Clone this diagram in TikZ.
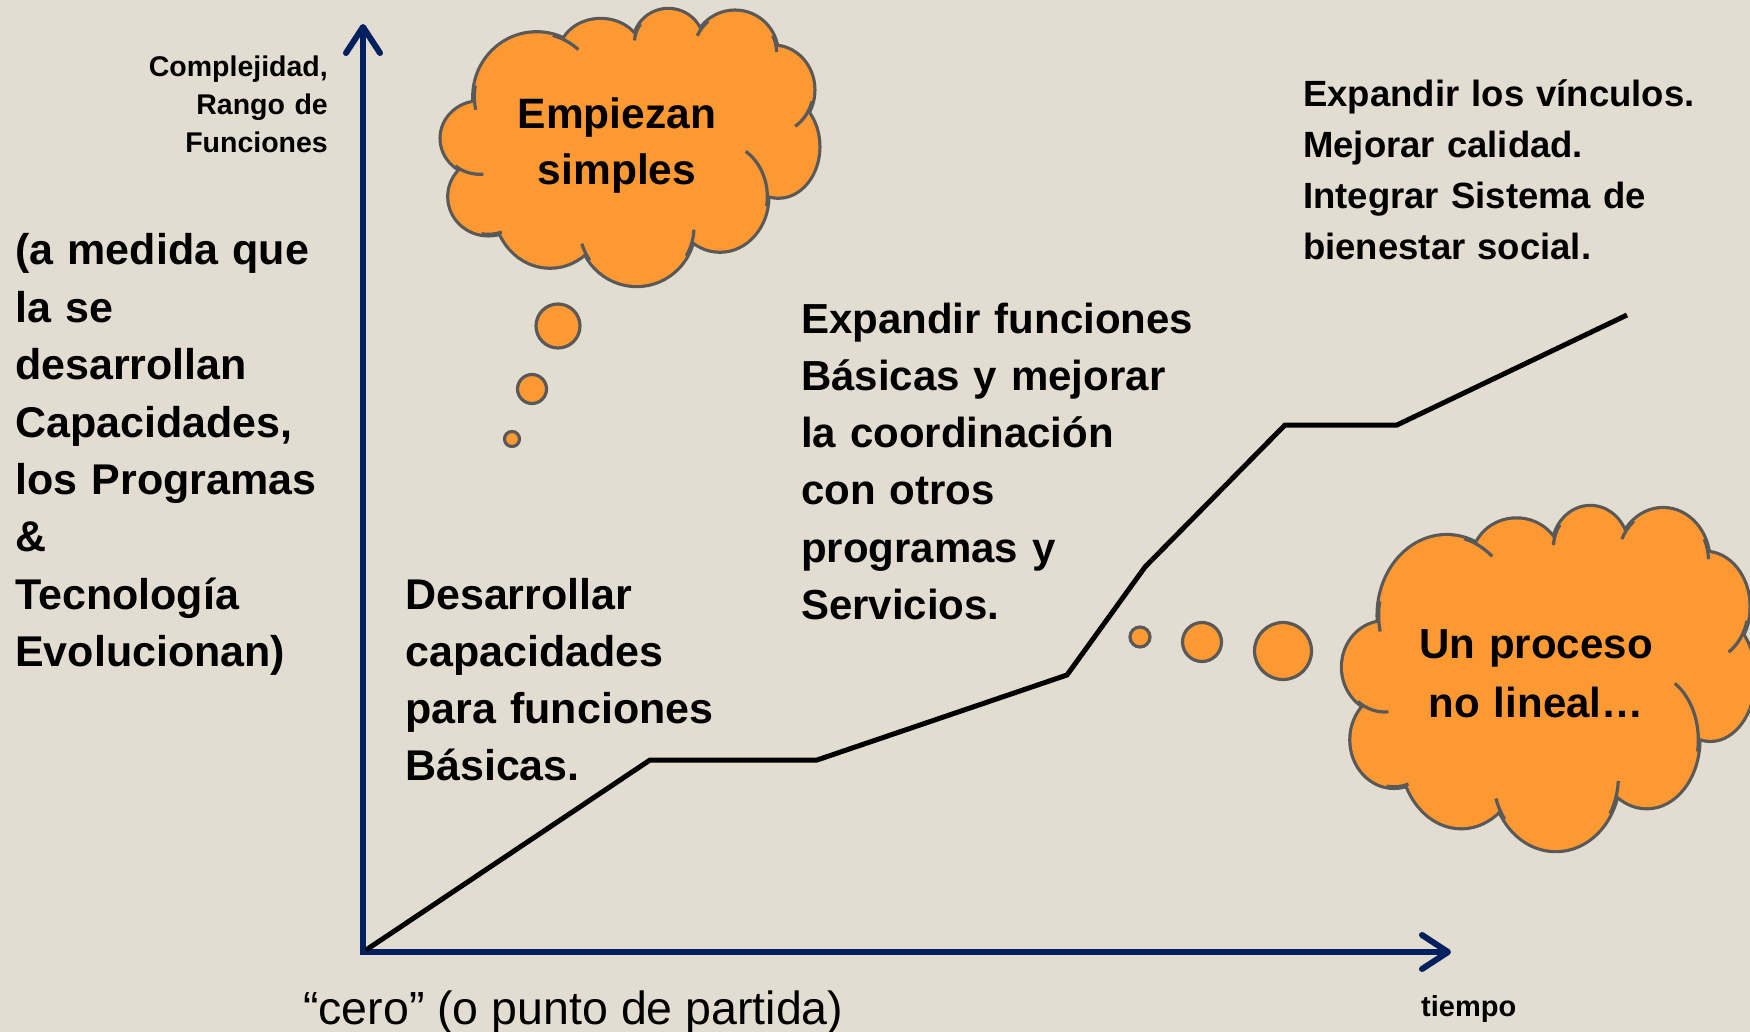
\documentclass[tikz,border=0pt]{standalone}
\usepackage{fontspec}
\setmainfont{Liberation Sans}
\usetikzlibrary{arrows.meta}
\definecolor{bgc}{RGB}{227,221,209}
\definecolor{axisc}{RGB}{0,32,96}
\definecolor{cloudfill}{RGB}{253,153,51}
\definecolor{cloudline}{RGB}{89,89,89}
\def\lobelist{150/415/115/108, 175/590/117/113, 360/620/165/180, 620/680/172/175, 870/590/142/162, 1045/440/120/150, 1030/270/120/130, 915/160/125/125, 715/130/102/100, 512/160/120/100, 320/290/187/190}
\def\taillist{150/415/115/108/130/85, 175/590/117/113/100/70, 620/680/172/175/145/163, 620/680/172/175/30/3, 870/590/142/162/10/-57, 1030/270/120/130/15/57, 915/160/125/125/-25/-2, 915/160/125/125/230/205, 715/130/102/100/215/185, 320/290/187/190/-75/-48, 320/290/187/190/190/168}
\newcommand\mycloudshape{%
  \foreach \cx/\cy/\rx/\ry in \lobelist {\draw[cloudline, line width=6.4pt] (\cx,\cy) ellipse [x radius=\rx, y radius=\ry];}
  \fill[cloudfill] (150,415) -- (175,590) -- (360,620) -- (620,680) -- (870,590) -- (1045,440) -- (1030,270) -- (915,160) -- (715,130) -- (512,160) -- (320,290) -- cycle;
  \foreach \cx/\cy/\rx/\ry in \lobelist {\fill[cloudfill] (\cx,\cy) ellipse [x radius=\rx, y radius=\ry];}
  \foreach \cx/\cy/\rx/\ry/\a/\b in \taillist {\draw[cloudline, line width=3.2pt] ({\cx+\rx*cos(\a)},{\cy+\ry*sin(\a)}) arc [start angle=\a, end angle=\b, x radius=\rx, y radius=\ry];}
}
\begin{document}
\begin{tikzpicture}[x=1pt,y=-1pt,
  axisline/.style={line width=6pt, draw=axisc, -{Straight Barb[length=26pt,width=34pt,line cap=round,line join=round]}},
  curve/.style={line width=5pt, draw=black},
  bubble/.style={fill=cloudfill, draw=cloudline, line width=3.2pt},
  lbl/.style={inner sep=0pt, anchor=base west, align=left},
  cloudtxt/.style={inner sep=0pt, anchor=base, align=center, text width=300pt},
]
\fill[bgc] (0,0) rectangle (1750,1032);
\useasboundingbox (0,0) rectangle (1750,1032);

% clouds
\begin{scope}[shift={(430,0)}, scale=0.33333]
  \mycloudshape
\end{scope}
\begin{scope}[shift={(1343,507)}, xscale=0.3637, yscale=0.4158, shift={(-35,-30)}]
  \mycloudshape
\end{scope}

% thought bubbles
\draw[bubble] (558,326) circle [radius=22];
\draw[bubble] (532,389) circle [radius=14.5];
\draw[bubble] (512,439) circle [radius=7.5];
\draw[bubble] (1140,637) circle [radius=10];
\draw[bubble] (1202,642) circle [radius=19.5];
\draw[bubble] (1283,651) circle [radius=28.5];

% axes
\coordinate (Obot) at (363,955);
\coordinate (Ytop) at (363,24);
\coordinate (Oleft) at (360,952);
\coordinate (Xend) at (1451,952);
\draw[axisline] (Obot) -- (Ytop);
\draw[axisline] (Oleft) -- (Xend);

% curve
\coordinate (L0) at (366,950);
\coordinate (L1) at (650,760);
\coordinate (L2) at (817,760);
\coordinate (L3) at (1067,675);
\coordinate (L4) at (1145,567);
\coordinate (L5) at (1285,425);
\coordinate (L6) at (1397,425);
\coordinate (L7) at (1627,315);
\draw[curve] (L0) -- (L1) -- (L2) -- (L3) -- (L4) -- (L5) -- (L6) -- (L7);

% texts
\node[cloudtxt, font=\fontsize{42.5}{56}\selectfont\bfseries] (c1txt) at (617,129) {Empiezan\\simples};
\node[cloudtxt, font=\fontsize{42}{59}\selectfont\bfseries] (c2txt) at (1536,658) {Un proceso\\no lineal…};

\node[inner sep=0pt, anchor=base east, align=right, text width=220pt, font=\fontsize{28.5}{38}\selectfont\bfseries] (ylab) at (328,77) {Complejidad,\\Rango de\\Funciones};

\node[lbl, text width=330pt, font=\fontsize{43}{57.4}\selectfont\bfseries] (lefttxt) at (15,265) {(a medida que\\la se\\desarrollan\\Capacidades,\\los Programas\\\&\\Tecnología\\Evolucionan)};

\node[lbl, text width=340pt, font=\fontsize{43}{57.2}\selectfont\bfseries] (desarr) at (405,609) {Desarrollar\\capacidades\\para funciones\\Básicas.};

\node[lbl, text width=420pt, font=\fontsize{42}{57.3}\selectfont\bfseries] (expand) at (801,333) {Expandir funciones\\Básicas y mejorar\\la coordinación\\con otros\\programas y\\Servicios.};

\node[lbl, text width=420pt, font=\fontsize{36.5}{51}\selectfont\bfseries] (vinc) at (1303,107) {Expandir los vínculos.\\Mejorar calidad.\\Integrar Sistema de\\bienestar social.};

\node[lbl, font=\fontsize{46.5}{46.5}\selectfont] (cero) at (303,1024) {“cero” (o punto de partida)};

\node[lbl, font=\fontsize{29}{29}\selectfont\bfseries] (tiempo) at (1421,1016) {tiempo};
\end{tikzpicture}
\end{document}
